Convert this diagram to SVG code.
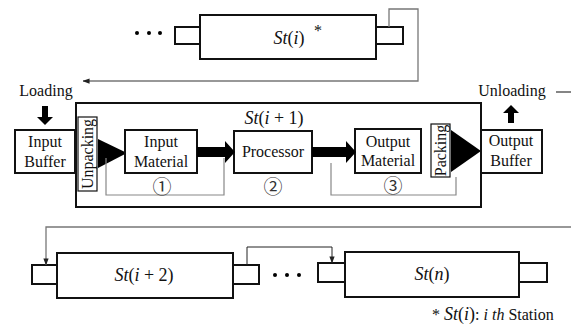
<svg xmlns="http://www.w3.org/2000/svg" width="571" height="331" viewBox="0 0 571 331">
  <defs>
    <marker id="tip" viewBox="0 0 8 8" refX="7.5" refY="4" markerWidth="7" markerHeight="7" markerUnits="userSpaceOnUse" orient="auto">
      <path d="M0,1 L8,4 L0,7 Z" fill="#222"/>
    </marker>
    <style>
      .box { fill: #fff; stroke: #111; stroke-width: 2; }
      .thin { fill: #fff; stroke: #111; stroke-width: 1.2; }
      .t { font-size: 16px; fill: #111; }
      .m { font-size: 18px; fill: #111; }
      .i { font-style: italic; }
      .c { text-anchor: middle; }
      .num { font-family: "Noto Sans CJK JP", "DejaVu Sans", sans-serif; font-size: 19px; fill: #333; text-anchor: middle; }
      .link { fill: none; stroke: #777; stroke-width: 1.3; }
      .link-dark { fill: none; stroke: #222; stroke-width: 1; }
      .bracket { fill: none; stroke: #888; stroke-width: 1.2; }
      .solid { fill: #000; }
    </style>
  </defs>

  <g font-family="Liberation Serif, DejaVu Serif, serif">

  <!-- upstream station St(i) -->
  <g id="station-i">
    <circle cx="137" cy="33" r="2" class="solid"/>
    <circle cx="149" cy="33" r="2" class="solid"/>
    <circle cx="160" cy="33" r="2" class="solid"/>
    <rect x="175" y="27" width="25" height="17" class="box"/>
    <rect x="200" y="15" width="176" height="44" class="box"/>
    <rect x="376" y="27" width="27" height="17" class="box"/>
    <text x="289" y="44" class="m c"><tspan class="i">St</tspan>(<tspan class="i">i</tspan>)</text>
    <text x="318" y="36" class="t c" font-size="14">*</text>
  </g>

  <!-- station St(i+1), expanded -->
  <g id="station-i1">
    <rect x="76" y="103" width="405" height="104" class="box"/>
    <text x="274" y="124" class="m c"><tspan class="i">St</tspan>(<tspan class="i">i</tspan> + 1)</text>
  </g>

  <g id="loading">
    <text x="46" y="96" class="t c">Loading</text>
    <path d="M42,106 H48 V117 H53 L45,125 L37,117 H42 Z" class="solid"/>
  </g>

  <g id="input-buffer">
    <rect x="15" y="130" width="60" height="43" class="box"/>
    <text x="45" y="147" class="t c">Input</text>
    <text x="45" y="167" class="t c">Buffer</text>
  </g>

  <g id="unpacking">
    <rect x="78" y="117" width="19" height="74" class="thin"/>
    <text transform="translate(93,154) rotate(-90)" class="t c">Unpacking</text>
    <path d="M98,139 L127,153 L98,168 Z" class="solid"/>
  </g>

  <g id="input-material">
    <rect x="125" y="130" width="72" height="43" class="box"/>
    <text x="161" y="147" class="t c">Input</text>
    <text x="161" y="167" class="t c">Material</text>
  </g>

  <g id="processor">
    <rect x="234" y="131" width="78" height="42" class="box"/>
    <text x="273" y="157" class="t c" font-size="17">Processor</text>
  </g>

  <g id="output-material">
    <rect x="355" y="129" width="66" height="44" class="box"/>
    <text x="388" y="147" class="t c">Output</text>
    <text x="388" y="166" class="t c">Material</text>
  </g>

  <g id="packing">
    <rect x="431" y="124" width="19" height="53" class="thin"/>
    <text transform="translate(446,150.5) rotate(-90)" class="t c">Packing</text>
    <path d="M451,130 L481,151 L451,172 Z" class="solid"/>
  </g>

  <g id="output-buffer">
    <rect x="481" y="130" width="61" height="43" class="box"/>
    <text x="511" y="146" class="t c">Output</text>
    <text x="511" y="166" class="t c">Buffer</text>
  </g>

  <g id="unloading">
    <text x="512" y="96" class="t c">Unloading</text>
    <line x1="556" y1="92" x2="571" y2="92" stroke="#333" stroke-width="1.2"/>
    <path d="M508,123 H514 V113 H519 L511,105 L503,113 H508 Z" class="solid"/>
  </g>

  <!-- downstream stations -->
  <g id="station-i2">
    <rect x="32" y="265" width="25" height="19" class="box"/>
    <rect x="57" y="253" width="176" height="45" class="box"/>
    <rect x="233" y="265" width="26" height="19" class="box"/>
    <text x="144" y="281" class="m c"><tspan class="i">St</tspan>(<tspan class="i">i</tspan> + 2)</text>
    <circle cx="275" cy="275" r="2" class="solid"/>
    <circle cx="287" cy="275" r="2" class="solid"/>
    <circle cx="299" cy="275" r="2" class="solid"/>
  </g>

  <g id="station-n">
    <rect x="318" y="263" width="27" height="19" class="box"/>
    <rect x="345" y="252" width="174" height="45" class="box"/>
    <rect x="519" y="263" width="28" height="19" class="box"/>
    <text x="432" y="280" class="m c"><tspan class="i">St</tspan>(<tspan class="i">n</tspan>)</text>
  </g>

  <!-- thick flow arrows, transfer brackets and station links -->
  <g id="connectors">
    <path d="M197,147 H225 V141 L235,152 L225,163 V157 H197 Z" class="solid"/>
    <path d="M312,147 H346 V141 L356,152 L346,163 V157 H312 Z" class="solid"/>
    <path d="M106,158 V195 H224 V158" class="bracket"/>
    <path d="M331,163 V195 H456 V177" class="bracket"/>
    <text x="162" y="194" class="num">①</text>
    <text x="273" y="194" class="num">②</text>
    <text x="393" y="193" class="num">③</text>
    <path d="M389,27 V9 H418 V81 H83" class="link" marker-end="url(#tip)"/>
    <path d="M571,227 H46 V265" class="link" marker-end="url(#tip)"/>
    <path d="M247,265 V247 H332 V263" class="link-dark" marker-end="url(#tip)"/>
  </g>

  <g id="note">
    <text x="432" y="320" class="t">* <tspan class="m i" font-size="18">St</tspan><tspan class="m" font-size="18">(</tspan><tspan class="m i" font-size="18">i</tspan><tspan class="m" font-size="18">)</tspan>: <tspan class="i">i th</tspan> Station</text>
  </g>

  </g>
</svg>
